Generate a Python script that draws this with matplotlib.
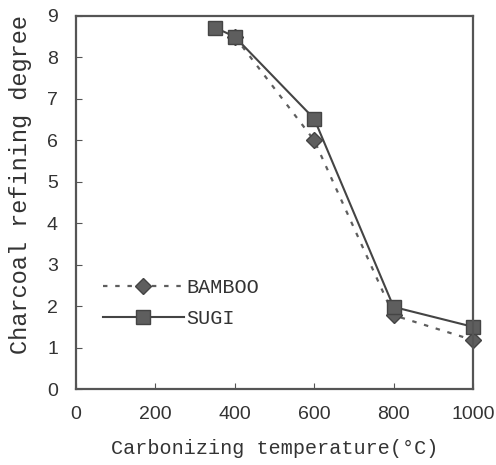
import matplotlib
matplotlib.use("Agg")
import matplotlib.pyplot as plt

# ===========================
# Data
# ===========================

bamboo_temp = [400, 600, 800, 1000]
bamboo_degree = [8.5, 6.0, 1.78, 1.18]

sugi_temp = [350, 400, 600, 800, 1000]
sugi_degree = [8.72, 8.5, 6.52, 1.98, 1.5]

x_ticks = [0, 200, 400, 600, 800, 1000]
y_ticks = list(range(0, 10))

ink = "#333333"
mark = "#5e5e5e"
mono = ["Liberation Mono", "DejaVu Sans Mono"]
sans = ["Liberation Sans", "DejaVu Sans"]

fig = plt.figure(figsize=(4.96, 4.65), dpi=100)
ax = fig.add_axes([76 / 496, 1 - 389 / 465, 397 / 496, 373 / 465])

ax.plot(
    bamboo_temp,
    bamboo_degree,
    linestyle=(0, (2, 3.5)),
    color=mark,
    linewidth=1.6,
    marker="D",
    markersize=8,
    markerfacecolor=mark,
    markeredgecolor="#444444",
    clip_on=False,
    label="BAMBOO"
)

ax.plot(
    sugi_temp,
    sugi_degree,
    linestyle="-",
    color="#444444",
    linewidth=1.5,
    marker="s",
    markersize=10,
    markerfacecolor=mark,
    markeredgecolor="#444444",
    clip_on=False,
    label="SUGI"
)

ax.set_xlim(0, 1000)
ax.set_ylim(0, 9)
ax.set_xticks(x_ticks)
ax.set_yticks(y_ticks)

ax.tick_params(direction="in", length=4, color="#555555", labelcolor=ink, labelsize=14)
ax.tick_params(axis="x", pad=12)
ax.tick_params(axis="y", pad=13)
for lbl in ax.get_xticklabels() + ax.get_yticklabels():
    lbl.set_family(sans)

for spine in ax.spines.values():
    spine.set_linewidth(1.6)
    spine.set_color("#555555")

ax.set_xlabel("Carbonizing temperature(\u00b0C)", fontsize=14.5, color=ink, family=mono)
ax.xaxis.set_label_coords(0.5, -0.135)

ax.set_ylabel("Charcoal refining degree", fontsize=17, color=ink, family=mono)
ax.yaxis.set_label_coords(-0.112, 0.547)

ax.legend(
    loc="upper left",
    bbox_to_anchor=(0.068, 0.297),
    borderaxespad=0,
    borderpad=0,
    frameon=False,
    handlelength=4.0,
    handletextpad=0.15,
    labelspacing=0.6,
    prop={"family": mono, "size": 14.5},
    labelcolor=ink
)

fig.savefig("out.png", dpi=100)
